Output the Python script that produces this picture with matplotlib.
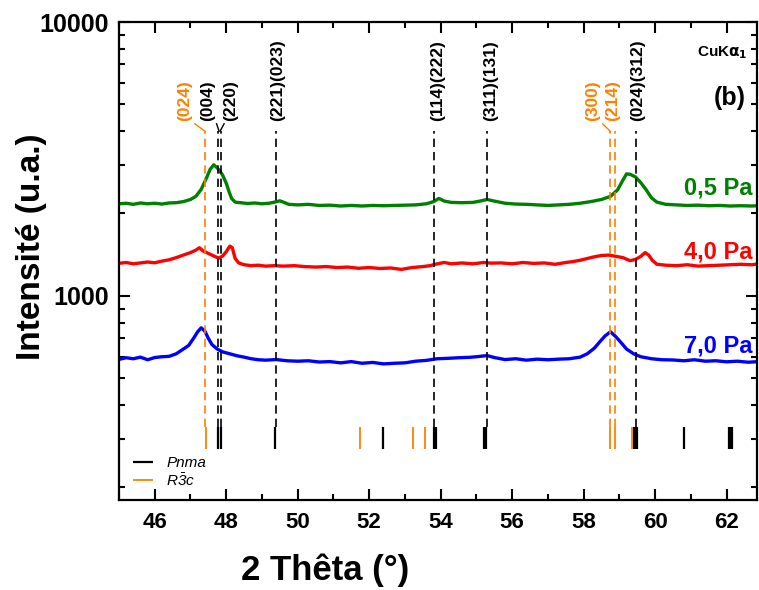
import matplotlib
matplotlib.use("Agg")
import matplotlib.pyplot as plt
from matplotlib.ticker import FixedLocator, NullFormatter, FuncFormatter, MultipleLocator

plt.rcParams['font.family'] = ['Liberation Sans', 'DejaVu Sans']
plt.rcParams['mathtext.fontset'] = 'custom'
plt.rcParams['mathtext.rm'] = 'Liberation Sans:italic'
plt.rcParams['mathtext.it'] = 'Liberation Sans:italic'

# 1. Data

x_05 = [45.0, 45.2, 45.4, 45.6, 45.8, 46.0, 46.2, 46.4, 46.6, 46.8, 47.0, 47.15, 47.3, 47.45,
        47.55, 47.65, 47.72, 47.8, 47.9, 48.0, 48.08, 48.15, 48.25, 48.4, 48.6, 48.8, 49.0,
        49.2, 49.35, 49.5, 49.6, 49.75, 50.0, 50.3, 50.6, 50.9, 51.2, 51.5, 51.8, 52.1, 52.4,
        52.7, 53.0, 53.3, 53.6, 53.8, 53.95, 54.1, 54.3, 54.6, 54.9, 55.1, 55.3, 55.5, 55.8,
        56.1, 56.4, 56.7, 57.0, 57.3, 57.6, 57.9, 58.2, 58.5, 58.75, 58.95, 59.1, 59.2, 59.3,
        59.45, 59.6, 59.75, 59.9, 60.05, 60.3, 60.6, 60.9, 61.2, 61.5, 61.8, 62.1, 62.4, 62.7, 62.9]
y_05 = [2170, 2180, 2160, 2185, 2170, 2180, 2165, 2185, 2190, 2210, 2250, 2310, 2450, 2700,
        2900, 3010, 2960, 2880, 2760, 2580, 2400, 2270, 2200, 2190, 2175, 2185, 2170,
        2180, 2200, 2225, 2200, 2160, 2150, 2160, 2140, 2145, 2130, 2140, 2130, 2140, 2135,
        2140, 2145, 2150, 2170, 2210, 2270, 2220, 2195, 2190, 2195, 2220, 2250, 2220, 2180,
        2165, 2160, 2150, 2140, 2150, 2160, 2180, 2210, 2250, 2310, 2440, 2650, 2790, 2780,
        2720, 2590, 2440, 2280, 2200, 2160, 2150, 2140, 2145, 2135, 2140, 2130, 2135, 2130, 2135]

x_40 = [45.0, 45.2, 45.4, 45.6, 45.8, 46.0, 46.2, 46.4, 46.6, 46.8, 47.0, 47.15, 47.25, 47.35,
        47.45, 47.55, 47.7, 47.8, 47.9, 48.0, 48.1, 48.17, 48.25, 48.35, 48.5, 48.7, 48.9,
        49.1, 49.35, 49.6, 49.9, 50.2, 50.5, 50.8, 51.1, 51.4, 51.7, 52.0, 52.3, 52.6, 52.9,
        53.2, 53.5, 53.7, 53.9, 54.1, 54.3, 54.6, 54.9, 55.2, 55.4, 55.7, 56.0, 56.3, 56.6,
        56.9, 57.2, 57.5, 57.7, 57.9, 58.1, 58.3, 58.5, 58.7, 58.9, 59.1, 59.3, 59.45, 59.6,
        59.72, 59.82, 59.92, 60.05, 60.3, 60.6, 60.9, 61.2, 61.5, 61.8, 62.1, 62.4, 62.7, 62.9]
y_40 = [1316, 1325, 1310, 1320, 1330, 1322, 1340, 1355, 1380, 1410, 1440, 1470, 1500, 1460,
        1440, 1420, 1390, 1375, 1400, 1450, 1520, 1500, 1370, 1320, 1300, 1290, 1295,
        1285, 1290, 1285, 1290, 1280, 1275, 1280, 1270, 1275, 1262, 1270, 1260, 1265, 1250,
        1270, 1280, 1290, 1310, 1325, 1310, 1320, 1310, 1325, 1318, 1320, 1310, 1325, 1315,
        1320, 1305, 1325, 1335, 1350, 1370, 1390, 1405, 1410, 1395, 1380, 1345, 1360, 1395,
        1440, 1410, 1350, 1305, 1295, 1290, 1300, 1285, 1290, 1295, 1300, 1305, 1300, 1310]

x_70 = [45.0, 45.2, 45.4, 45.6, 45.8, 46.0, 46.2, 46.4, 46.6, 46.8, 46.95, 47.1, 47.2, 47.3,
        47.4, 47.5, 47.6, 47.75, 47.9, 48.1, 48.3, 48.5, 48.7, 48.9, 49.1, 49.4, 49.7, 50.0,
        50.3, 50.6, 50.9, 51.2, 51.5, 51.8, 52.1, 52.4, 52.7, 53.0, 53.3, 53.6, 53.9, 54.2,
        54.5, 54.8, 55.0, 55.3, 55.5, 55.8, 56.1, 56.4, 56.7, 57.0, 57.3, 57.6, 57.9, 58.1,
        58.3, 58.45, 58.6, 58.75, 58.9, 59.05, 59.2, 59.4, 59.6, 59.9, 60.2, 60.5, 60.8, 61.1,
        61.4, 61.7, 62.0, 62.3, 62.6, 62.9]
y_70 = [587, 595, 590, 598, 585, 596, 600, 602, 615, 640, 660, 705, 740, 765,
        745, 700, 665, 640, 625, 615, 605, 598, 590, 585, 583, 586, 580, 578,
        580, 574, 576, 570, 576, 568, 572, 565, 568, 570, 578, 582, 590, 592,
        595, 597, 600, 606, 596, 586, 590, 583, 588, 585, 588, 590, 598, 615,
        645, 680, 715, 740, 710, 675, 640, 615, 600, 590, 585, 584, 580, 585,
        578, 580, 575, 578, 573, 576]

series_labels = ['0,5 Pa', '4,0 Pa', '7,0 Pa']

# reference pattern positions
pnma_pos = [47.77, 47.85, 49.36, 52.39, 53.80, 53.86, 55.22, 55.28,
            59.42, 59.46, 59.50, 60.80, 62.07, 62.12, 62.16]
r3c_pos = [47.43, 51.75, 53.23, 53.57, 58.73, 58.89, 59.36, 62.87]

# indexed peaks
peaks_black = [47.77, 47.84, 49.38, 53.81, 55.30, 59.47]
peaks_orange = [47.40, 58.74, 58.89]
hkl_labels = ['(024)', '(004)', '(220)', '(221)(023)', '(114)(222)', '(311)(131)',
              '(300)', '(214)', '(024)(312)']
hkl_x = [46.84, 47.47, 48.13, 49.45, 53.91, 55.40, 58.26, 58.82, 59.52]
hkl_colors = ['#ff7f00', 'k', 'k', 'k', 'k', 'k', '#ff7f00', '#ff7f00', 'k']

# 2. Figure
fig = plt.figure(figsize=(7.59, 5.90), dpi=100)
ax = fig.add_axes([119 / 759, 90 / 590, 638 / 759, 478 / 590])

ax.plot(x_05, y_05, color='#008000', lw=2.4)
ax.plot(x_40, y_40, color='#ff0000', lw=2.4)
ax.plot(x_70, y_70, color='#0000ff', lw=2.4)

ax.set_yscale('log')
ax.set_xlim(45, 62.85)
ax.set_ylim(180, 10000)

# dashed guide lines
ax.vlines(peaks_black, 332, 4000, colors='k', linestyles=(0, (5, 3)), lw=1.2)
ax.vlines(peaks_orange, 332, 4000, colors='#ff7f00', linestyles=(0, (5, 3)), lw=1.2)

# connectors from labels to lines
ax.plot([47.12, 47.40], [4250, 4000], color='#ff7f00', lw=1)
ax.plot([47.73, 47.80], [4250, 4000], color='k', lw=1)
ax.plot([47.94, 47.83], [4250, 4000], color='k', lw=1)
ax.plot([58.53, 58.74], [4250, 4000], color='#ff7f00', lw=1)

for xl, lab, c in zip(hkl_x, hkl_labels, hkl_colors):
    ax.text(xl, 4350, lab, rotation=90, ha='center', va='bottom', color=c,
            fontsize=12.5, fontweight='bold')

# reference bars
ax.vlines(pnma_pos, 277, 333, colors='k', lw=1.6, label='Pnma')
ax.vlines(r3c_pos, 277, 333, colors='#ff7f00', lw=1.3, label=r'$R\bar{3}c$')
leg = ax.legend(loc='lower left', bbox_to_anchor=(0.0, -0.005), frameon=False,
                handlelength=1.3, handletextpad=0.9, labelspacing=0.1,
                prop={'style': 'italic', 'size': 11})

# series labels
ax.text(0.993, 0.652, series_labels[0], transform=ax.transAxes, ha='right', va='center',
        color='#008000', fontsize=17, fontweight='bold')
ax.text(0.993, 0.519, series_labels[1], transform=ax.transAxes, ha='right', va='center',
        color='#ff0000', fontsize=17, fontweight='bold')
ax.text(0.993, 0.322, series_labels[2], transform=ax.transAxes, ha='right', va='center',
        color='#0000ff', fontsize=17, fontweight='bold')

ax.text(0.985, 0.935, r'CuK$\mathbf{\alpha}_{\mathbf{1}}$', transform=ax.transAxes,
        ha='right', va='center', fontsize=11, fontweight='bold')
ax.text(0.983, 0.842, '(b)', transform=ax.transAxes, ha='right', va='center',
        fontsize=18, fontweight='bold')

# ticks
ax.xaxis.set_major_locator(MultipleLocator(2))
ax.xaxis.set_minor_locator(MultipleLocator(1))
ax.yaxis.set_major_locator(FixedLocator([1000, 10000]))
ax.yaxis.set_minor_locator(FixedLocator([200, 300, 400, 500, 600, 700, 800, 900,
                                         2000, 3000, 4000, 5000, 6000, 7000, 8000, 9000]))
ax.yaxis.set_major_formatter(FuncFormatter(lambda v, p: '%d' % v))
ax.yaxis.set_minor_formatter(NullFormatter())
ax.tick_params(which='both', direction='in', top=True, right=True, width=1.5)
ax.tick_params(which='major', length=8)
ax.tick_params(which='minor', length=4)
ax.tick_params(axis='x', labelsize=16, pad=9)
ax.tick_params(axis='y', labelsize=18, pad=7)
for t in ax.get_xticklabels() + ax.get_yticklabels():
    t.set_fontweight('bold')
for s in ax.spines.values():
    s.set_linewidth(1.6)

ax.set_xlabel('2 Thêta (°)', fontsize=25, fontweight='bold')
ax.xaxis.set_label_coords(0.323, -0.112)
ax.set_ylabel('Intensité (u.a.)', fontsize=24, fontweight='bold')
ax.yaxis.set_label_coords(-0.113, 0.53)

plt.savefig('out.png', dpi=100)
